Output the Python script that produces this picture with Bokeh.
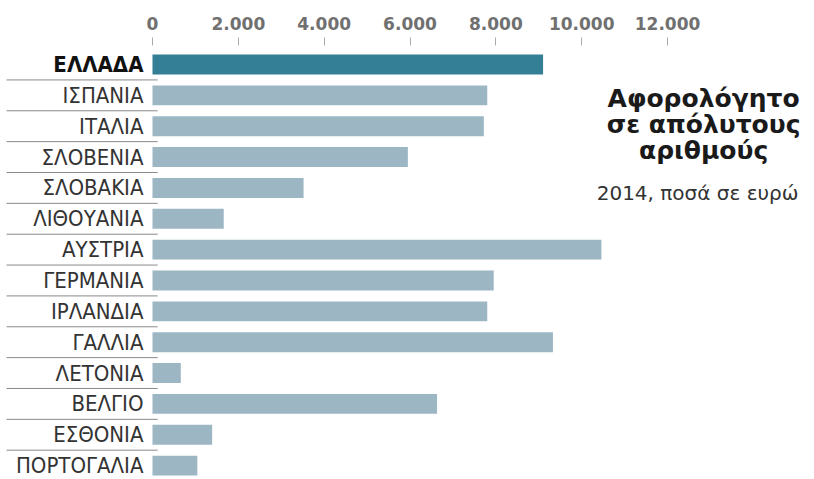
from bokeh.plotting import figure
from bokeh.models import ColumnDataSource, Range1d, FixedTicker, Label
from bokeh.core.properties import value
from bokeh.embed import file_html
from bokeh.resources import INLINE

countries = ["ΕΛΛΑΔΑ", "ΙΣΠΑΝΙΑ", "ΙΤΑΛΙΑ", "ΣΛΟΒΕΝΙΑ", "ΣΛΟΒΑΚΙΑ", "ΛΙΘΟΥΑΝΙΑ", "ΑΥΣΤΡΙΑ",
             "ΓΕΡΜΑΝΙΑ", "ΙΡΛΑΝΔΙΑ", "ΓΑΛΛΙΑ", "ΛΕΤΟΝΙΑ", "ΒΕΛΓΙΟ", "ΕΣΘΟΝΙΑ", "ΠΟΡΤΟΓΑΛΙΑ"]
amounts = [9100, 7800, 7720, 5950, 3520, 1660, 10460, 7950, 7800, 9330, 660, 6630, 1390, 1045]
tick_values = [0, 2000, 4000, 6000, 8000, 10000, 12000]
tick_labels = ["0", "2.000", "4.000", "6.000", "8.000", "10.000", "12.000"]
title_lines = ["Αφορολόγητο", "σε απόλυτους", "αριθμούς"]
subtitle = "2014, ποσά σε ευρώ"

highlight = "ΕΛΛΑΔΑ"
rows = list(range(len(countries)))
colors = ["#357f96" if c == highlight else "#9db6c4" for c in countries]
styles = ["bold" if c == highlight else "normal" for c in countries]
label_colors = ["#111111" if c == highlight else "#333333" for c in countries]

X0, X1 = -3541, 15424
src = ColumnDataSource(dict(country=countries, amount=amounts, row=rows, color=colors,
                            style=styles, lcolor=label_colors,
                            lx=[-210] * len(countries)))

W, H = 814, 479
p = figure(width=W, height=H, output_backend="svg", toolbar_location=None,
           x_range=Range1d(X0, X1), y_range=Range1d(13.45, -0.616),
           x_axis_location="above", min_border_left=0, min_border_right=0,
           min_border_bottom=0, min_border_top=45)
p.yaxis.visible = False
p.grid.visible = False
p.outline_line_color = None
p.background_fill_color = "white"

ax = p.xaxis[0]
ax.ticker = FixedTicker(ticks=tick_values)
ax.major_label_overrides = {v: l for v, l in zip(tick_values, tick_labels)}
ax.axis_line_color = None
ax.major_tick_out = 8
ax.major_tick_in = 0
ax.major_tick_line_color = "#aaaaaa"
ax.minor_tick_line_color = None
ax.major_label_standoff = 8
ax.major_label_text_font = "DejaVu Sans"
ax.major_label_text_font_style = "bold"
ax.major_label_text_font_size = "17px"
ax.major_label_text_color = "#707070"

p.hbar(y="row", left=0, right="amount", height=0.645, fill_color="color",
       line_color=None, source=src)

# separators between labels
sep_y = [r + 0.5 for r in rows[:-1]]
p.segment(x0=[-3400] * len(sep_y), x1=[120] * len(sep_y), y0=sep_y, y1=sep_y,
          line_color="#8a8a8a", line_width=1)

p.text(x="lx", y="row", text="country", source=src, text_align="right",
       text_baseline="middle", text_font=value("Liberation Sans Narrow, DejaVu Sans Condensed, sans-serif"),
       text_font_size="22px", text_font_style="style", text_color="lcolor")

for line, yv in zip(title_lines, [1.1, 1.94, 2.78]):
    p.add_layout(Label(x=12840, y=yv, text=line, text_align="center", text_baseline="middle",
                       text_font="DejaVu Sans", text_font_style="bold",
                       text_font_size="25px", text_color="#1a1a1a"))
p.add_layout(Label(x=12700, y=4.15, text=subtitle, text_align="center", text_baseline="middle",
                   text_font="DejaVu Sans", text_font_size="20px", text_color="#333333"))

open("out.html", "w").write(file_html(p, INLINE))
